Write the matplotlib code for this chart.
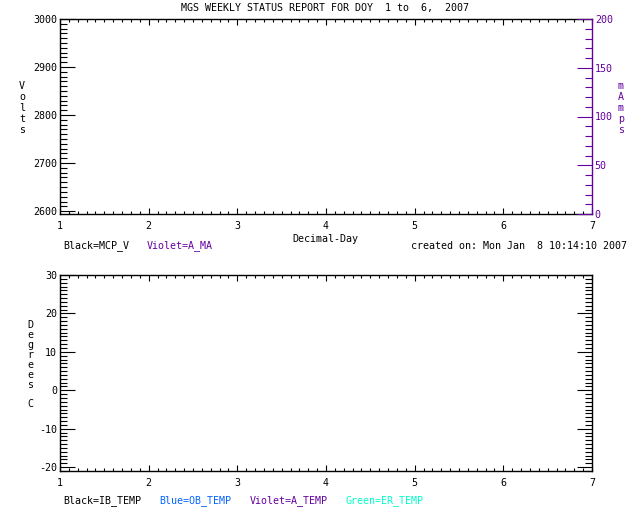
import matplotlib
matplotlib.use("Agg")
import matplotlib.pyplot as plt
from matplotlib.ticker import MultipleLocator

# ---- data (the report contains no plotted samples) ----
day_top = []
mcp_v = []
a_ma = []
day_bot = []
ib_temp = []
ob_temp = []
a_temp = []
er_temp = []

title = "MGS WEEKLY STATUS REPORT FOR DOY  1 to  6,  2007"
created = "created on: Mon Jan  8 10:14:10 2007"
xlim = (1, 7)
volts_lim = (2594, 3000)
mamps_lim = (0, 200)
temp_lim = (-21, 30)

VIOLET = "#6400a0"
BLUE = "#0064ff"
GREEN = "#00ffc8"
FONT = "DejaVu Sans Mono"
FS = 7.2

plt.rcParams["font.family"] = FONT
plt.rcParams["font.size"] = FS
plt.rcParams["axes.unicode_minus"] = False

W, H = 640, 512
fig = plt.figure(figsize=(W / 100, H / 100), dpi=100)

def fx(px):
    return px / W

def fy(py):
    return 1 - py / H

def style_axis(ax, right_ticks=True):
    ax.set_xlim(*xlim)
    ax.xaxis.set_major_locator(MultipleLocator(1))
    ax.xaxis.set_minor_locator(MultipleLocator(0.1))
    ax.tick_params(axis="x", which="both", direction="in", top=True, bottom=True,
                   labelsize=FS, pad=5, width=0.8)
    ax.tick_params(axis="x", which="major", length=4.5)
    ax.tick_params(axis="x", which="minor", length=2)
    ax.tick_params(axis="y", which="both", direction="in", left=True,
                   right=right_ticks, labelsize=FS, pad=2, width=0.8)
    ax.tick_params(axis="y", which="major", length=11)
    ax.tick_params(axis="y", which="minor", length=5)
    for s in ax.spines.values():
        s.set_linewidth(1.0)

# ---- top panel ----
ax1 = fig.add_axes([fx(60), fy(214), fx(592 - 60), (214 - 19) / H])
ax1.plot(day_top, mcp_v, color="black", lw=0.8)
ax1.set_ylim(*volts_lim)
ax1.yaxis.set_major_locator(MultipleLocator(100))
ax1.yaxis.set_minor_locator(MultipleLocator(10))
style_axis(ax1, right_ticks=False)
ax1.spines["right"].set_visible(False)

ax1r = ax1.twinx()
ax1r.plot(day_top, a_ma, color=VIOLET, lw=0.8)
ax1r.set_ylim(*mamps_lim)
ax1r.yaxis.set_major_locator(MultipleLocator(50))
ax1r.yaxis.set_minor_locator(MultipleLocator(10))
ax1r.yaxis.set_ticks_position("right")
ax1r.tick_params(axis="y", which="both", direction="in", left=False, right=True,
                 colors=VIOLET, labelsize=FS, pad=2, width=0.8)
ax1r.tick_params(axis="y", which="major", length=11)
ax1r.tick_params(axis="y", which="minor", length=5)
for k, s in ax1r.spines.items():
    s.set_visible(k == "right")
ax1r.spines["right"].set_color(VIOLET)
ax1r.spines["right"].set_linewidth(1.0)

# ---- bottom panel ----
ax2 = fig.add_axes([fx(60), fy(471), fx(592 - 60), (471 - 275) / H])
ax2.plot(day_bot, ib_temp, color="black", lw=0.8)
ax2.plot(day_bot, ob_temp, color=BLUE, lw=0.8)
ax2.plot(day_bot, a_temp, color=VIOLET, lw=0.8)
ax2.plot(day_bot, er_temp, color=GREEN, lw=0.8)
ax2.set_ylim(*temp_lim)
ax2.yaxis.set_major_locator(MultipleLocator(10))
ax2.yaxis.set_minor_locator(MultipleLocator(1))
style_axis(ax2, right_ticks=True)

# ---- texts ----
fig.text(fx(325), fy(8), title, ha="center", va="center", fontsize=FS)
fig.text(fx(22), fy(108), "V\no\nl\nt\ns", ha="center", va="center",
         fontsize=FS, linespacing=1.1)
fig.text(fx(621), fy(108), "m\nA\nm\np\ns", ha="center", va="center",
         fontsize=FS, linespacing=1.1, color=VIOLET)
fig.text(fx(325), fy(239), "Decimal-Day", ha="center", va="center", fontsize=FS)
fig.text(fx(63), fy(246), "Black=MCP_V", ha="left", va="center", fontsize=FS)
fig.text(fx(147), fy(246), "Violet=A_MA", ha="left", va="center", fontsize=FS,
         color=VIOLET)
fig.text(fx(411), fy(246), created, ha="left", va="center", fontsize=FS)

fig.text(fx(30), fy(355), "D\ne\ng\nr\ne\ne\ns", ha="center", va="center",
         fontsize=FS, linespacing=0.98)
fig.text(fx(30), fy(404), "C", ha="center", va="center", fontsize=FS)

fig.text(fx(63), fy(501), "Black=IB_TEMP", ha="left", va="center", fontsize=FS)
fig.text(fx(159), fy(501), "Blue=OB_TEMP", ha="left", va="center", fontsize=FS,
         color=BLUE)
fig.text(fx(250), fy(501), "Violet=A_TEMP", ha="left", va="center", fontsize=FS,
         color=VIOLET)
fig.text(fx(346), fy(501), "Green=ER_TEMP", ha="left", va="center", fontsize=FS,
         color=GREEN)

fig.savefig("out.png", dpi=100, facecolor="white")
